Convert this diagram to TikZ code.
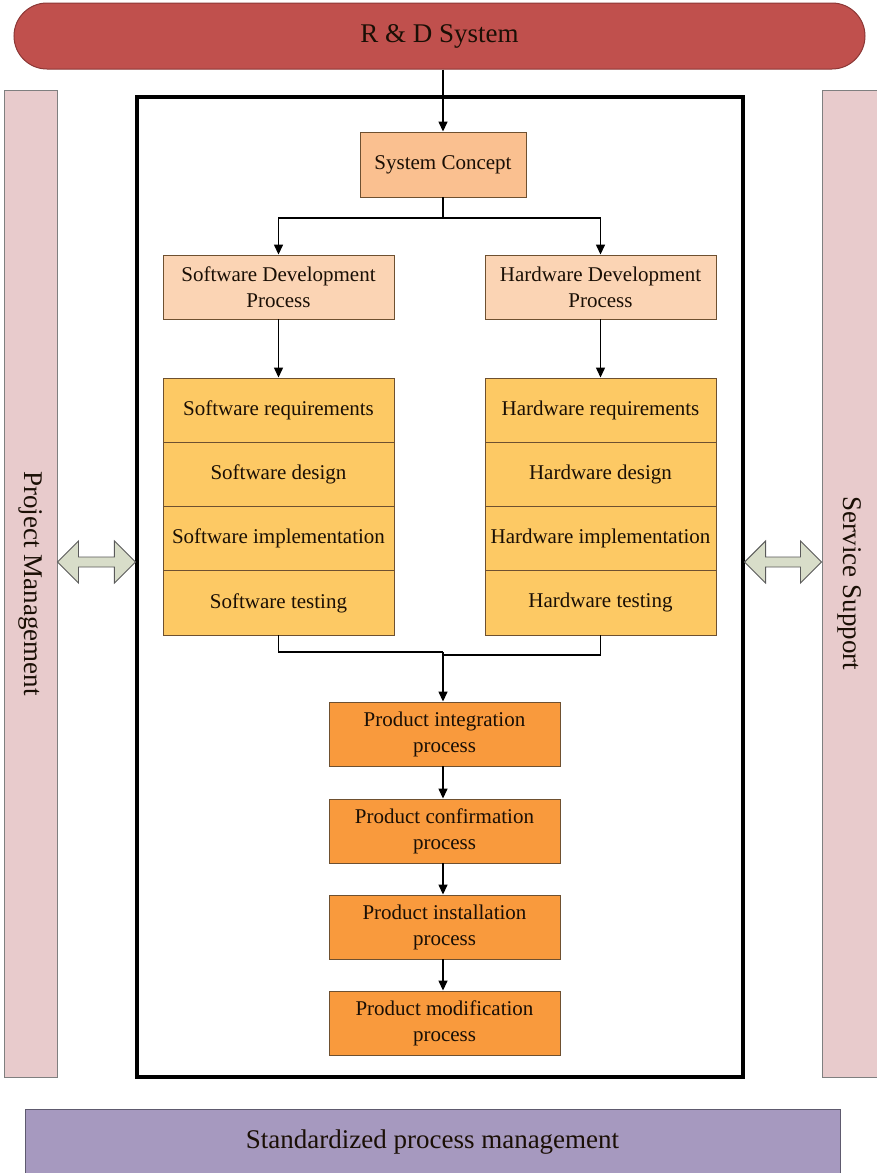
\documentclass[tikz,border=0pt]{standalone}
\usepackage{fontspec}
\setmainfont{Liberation Serif}
\usetikzlibrary{arrows.meta,calc}
\definecolor{rdred}{HTML}{C0504D}
\definecolor{rdredline}{HTML}{8C3836}
\definecolor{sidepink}{HTML}{E8CBCC}
\definecolor{sideline}{HTML}{7F7F7F}
\definecolor{conceptc}{HTML}{FAC090}
\definecolor{devc}{HTML}{FBD4B4}
\definecolor{stackc}{HTML}{FDC964}
\definecolor{prodc}{HTML}{F99A3D}
\definecolor{boxline}{HTML}{6E5030}
\definecolor{dblc}{HTML}{D8DDC9}
\definecolor{dblline}{HTML}{5A5A5A}
\definecolor{purp}{HTML}{A699BF}
\definecolor{purpline}{HTML}{5E5A6E}
\definecolor{txt}{HTML}{1A0F05}
\tikzset{
  bigtxt/.style={font=\fontsize{27}{32}\selectfont, text=txt},
  boxbase/.style={draw=boxline, line width=0.9pt, align=center, text=txt,
     font=\fontsize{21}{26}\selectfont, inner sep=0pt},
  conceptbox/.style={boxbase, fill=conceptc, minimum width=166, minimum height=65},
  devbox/.style={boxbase, fill=devc, minimum width=231, minimum height=64},
  stackbox/.style={boxbase, fill=stackc, minimum width=231, minimum height=64.25},
  prodbox/.style={boxbase, fill=prodc, minimum width=231, minimum height=64},
  arr/.style={draw=black, line width=1.4pt, -{Triangle[width=9pt,length=10pt]}},
  ln/.style={draw=black, line width=1.4pt},
  dbl/.style={fill=dblc, draw=dblline, line width=0.9pt, line join=miter},
}
\begin{document}
\begin{tikzpicture}[x=1pt,y=-1pt]
\useasboundingbox (0,0) rectangle (876,1173);
\fill[white] (0,0) rectangle (876,1173);

% top pill
\node[bigtxt, draw=rdredline, fill=rdred, line width=1pt, rounded corners=33pt,
      minimum width=851, minimum height=66, inner sep=0pt] (rd) at (439.5,36) {R \& D System};

% side bars
\node[bigtxt, draw=sideline, fill=sidepink, line width=1pt, rotate=-90,
      minimum width=987, minimum height=53, inner sep=0pt] (pm) at (30.5,583.5) {Project Management};
\node[bigtxt, draw=sideline, fill=sidepink, line width=1pt, rotate=-90,
      minimum width=987, minimum height=56, inner sep=0pt] (ss) at (850,583.5) {Service Support};

% main frame
\node[draw=black, line width=3.2pt, minimum width=606, minimum height=980, inner sep=0pt] (frame) at (440,587) {};

% bottom bar
\node[bigtxt, draw=purpline, fill=purp, line width=1pt,
      minimum width=815, minimum height=66, inner sep=0pt] (spm) at (432.5,1142) {Standardized process management};

% boxes
\node[conceptbox] (sc) at (443,164.5) {System Concept};
\node[devbox] (swd) at (278.5,287) {Software Development\\Process};
\node[devbox] (hwd) at (600.5,287) {Hardware Development\\Process};

\node[stackbox] (sw1) at (278.5,410.1) {Software requirements};
\node[stackbox] (sw2) at (278.5,474.4) {Software design};
\node[stackbox] (sw3) at (278.5,538.6) {Software implementation};
\node[stackbox] (sw4) at (278.5,602.9) {Software testing};
\node[stackbox] (hw1) at (600.5,410.1) {Hardware requirements};
\node[stackbox] (hw2) at (600.5,474.4) {Hardware design};
\node[stackbox] (hw3) at (600.5,538.6) {Hardware implementation};
\node[stackbox] (hw4) at (600.5,602.9) {Hardware testing};

\node[prodbox] (p1) at (444.5,734) {Product integration\\process};
\node[prodbox] (p2) at (444.5,831) {Product confirmation\\process};
\node[prodbox] (p3) at (444.5,927) {Product installation\\process};
\node[prodbox] (p4) at (444.5,1023) {Product modification\\process};

% connectors
\draw[arr] (sc.north |- rd.south) -- (sc.north);
\coordinate (j1) at (443,218);
\draw[ln] (sc.south) -- (j1);
\draw[arr] (j1) -| (swd.north);
\draw[arr] (j1) -| (hwd.north);
\draw[arr] (swd.south) -- (sw1.north);
\draw[arr] (hwd.south) -- (hw1.north);
\coordinate (j2) at (443,652);
\coordinate (j3) at (443,655);
\draw[ln] (sw4.south) |- (j2);
\draw[ln] (hw4.south) |- (j3);
\draw[arr] (j2) -- (j2 |- p1.north);
\draw[arr] (j2 |- p1.south) -- (j2 |- p2.north);
\draw[arr] (j2 |- p2.south) -- (j2 |- p3.north);
\draw[arr] (j2 |- p3.south) -- (j2 |- p4.north);

% double arrows
\coordinate (la) at (pm.north |- 0,562);
\coordinate (lb) at (frame.west |- 0,562);
\draw[dbl] (la) -- ++(21,-21) -- ++(0,16) -- ($(lb)+(-21,-5)$) -- ++(0,-16) -- (lb)
   -- ++(-21,21) -- ++(0,-16) -- ($(la)+(21,5)$) -- ++(0,16) -- cycle;
\coordinate (ra) at (frame.east |- 0,562);
\coordinate (rb) at (ss.south |- 0,562);
\draw[dbl] (ra) -- ++(21,-21) -- ++(0,16) -- ($(rb)+(-21,-5)$) -- ++(0,-16) -- (rb)
   -- ++(-21,21) -- ++(0,-16) -- ($(ra)+(21,5)$) -- ++(0,16) -- cycle;
\end{tikzpicture}
\end{document}
